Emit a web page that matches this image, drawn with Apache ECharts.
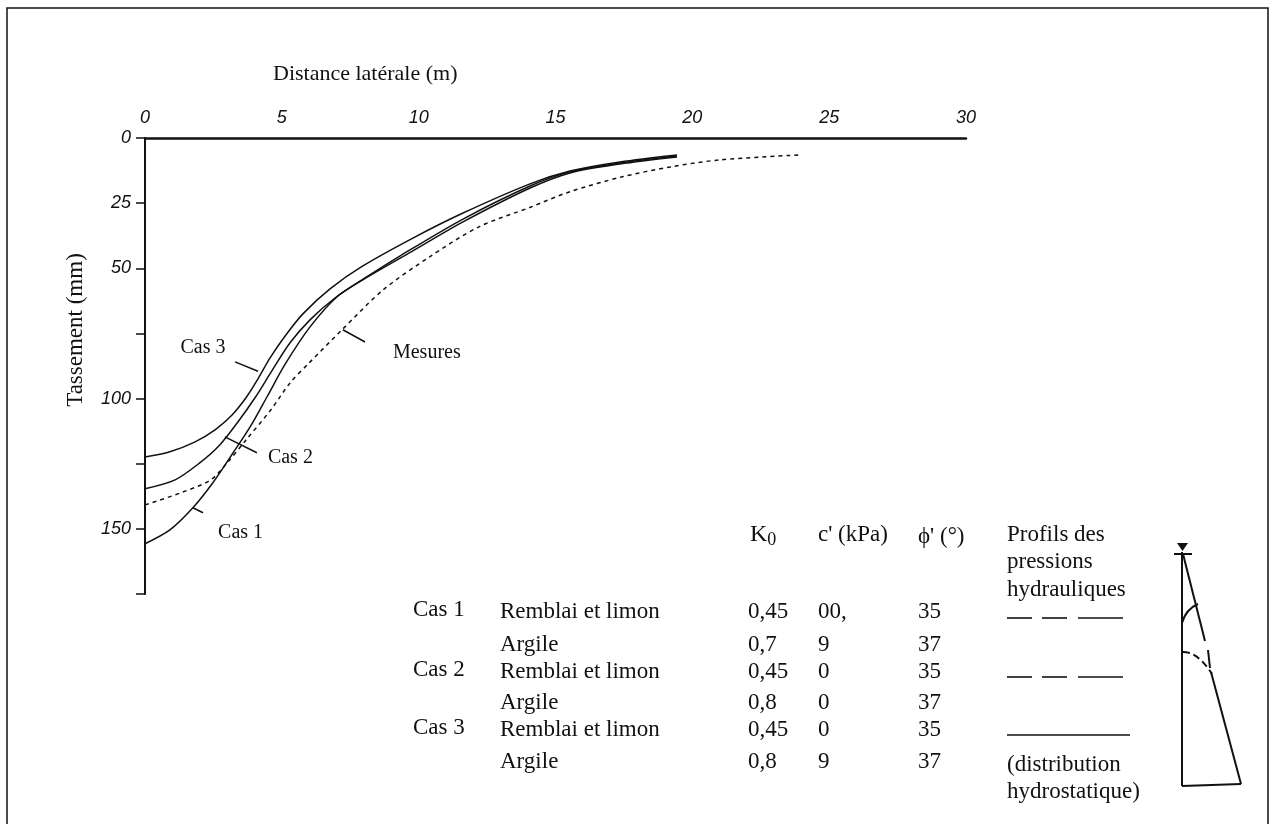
<!DOCTYPE html>
<html>
<head>
<meta charset="utf-8">
<script src="https://cdn.jsdelivr.net/npm/echarts@6/dist/echarts.min.js"></script>
<style>
html, body { margin: 0; padding: 0; background: #fff; }
#main { width: 1274px; height: 824px; }
</style>
</head>
<body>
<div id="main"></div>
<script>
// Distance latérale (m) / tassement (mm)
var cas3X = [0, 0.91, 1.83, 2.56, 3.18, 3.69, 4.13, 4.57, 5.12, 5.77, 6.76, 7.96, 9.79, 11.62, 14.07, 15.53, 17.35, 19.44];
var cas3Y = [122.4, 120.4, 116.6, 112.0, 106.3, 99.7, 92.4, 84.4, 76.0, 67.5, 57.9, 49.1, 38.4, 28.8, 17.6, 12.7, 9.2, 6.5];

var cas2X = [0, 1.1, 2.01, 2.74, 3.4, 4.02, 4.64, 5.3, 6.03, 6.94, 8.04, 9.31, 11.62, 14.07, 15.53, 17.35, 19.44];
var cas2Y = [134.6, 131.2, 124.6, 117.7, 108.9, 99.7, 89.3, 78.6, 69.8, 61.4, 53.7, 45.3, 31.1, 18.4, 13.0, 9.6, 6.9];

var cas1X = [0, 0.91, 1.75, 2.48, 3.22, 3.84, 4.46, 5.11, 6.03, 7.01, 7.96, 9.79, 11.62, 14.07, 15.53, 17.35, 19.44];
var cas1Y = [155.7, 150.4, 141.9, 132.3, 120.8, 110.9, 99.3, 87.0, 72.5, 61.0, 54.4, 43.3, 32.2, 19.2, 13.4, 10.0, 7.3];

var mesuresX = [0, 1.3, 2.4, 3.0, 3.7, 4.6, 5.3, 6.0, 7.2, 8.7, 10.4, 12.2, 14.1, 15.5, 17.4, 19.2, 21.0, 23.9];
var mesuresY = [140.8, 136.2, 131.2, 124.7, 115.8, 104.3, 94, 86.3, 73.6, 58.3, 45.6, 34.1, 26.5, 20.7, 15.0, 11.1, 8.4, 6.5];

var yLabels = [0, 25, 50, 100, 150];   // graduations numérotées

// tableau des paramètres
var casNoms = ['Cas 1', '', 'Cas 2', '', 'Cas 3', ''];
var couches = ['Remblai et limon', 'Argile', 'Remblai et limon', 'Argile', 'Remblai et limon', 'Argile'];
var k0 = ['0,45', '0,7', '0,45', '0,8', '0,45', '0,8'];
var cPrime = ['00,', '9', '0', '0', '0', '9'];
var phiPrime = ['35', '37', '35', '37', '35', '37'];

var serif = 'Liberation Serif';
var noir = '#111';

function paires(xs, ys) {
    var res = [];
    for (var i = 0; i < xs.length; i++) res.push([xs[i], ys[i]]);
    return res;
}

function courbe(nom, xs, ys, type) {
    return {
        name: nom,
        type: 'line',
        data: paires(xs, ys),
        smooth: 0.3,
        showSymbol: false,
        symbol: 'none',
        lineStyle: { color: noir, width: 1.5, type: type || 'solid' },
        z: 3
    };
}

var myChart = echarts.init(document.getElementById('main'));

var option = {
    backgroundColor: '#fff',
    animation: false,
    title: {
        text: 'Distance latérale (m)',
        left: 268,
        top: 58,
        textStyle: { fontFamily: serif, fontSize: 22, fontWeight: 'normal', color: noir }
    },
    grid: { left: 145, top: 138, width: 821, height: 456 },
    xAxis: {
        type: 'value',
        position: 'top',
        min: 0,
        max: 30,
        interval: 5,
        axisLine: { onZero: false, lineStyle: { color: noir, width: 2.5 } },
        axisTick: { show: false },
        splitLine: { show: false },
        axisLabel: {
            margin: 11,
            color: noir,
            fontFamily: 'Liberation Sans',
            fontStyle: 'italic',
            fontSize: 18
        }
    },
    yAxis: {
        type: 'value',
        inverse: true,
        min: 0,
        max: 175,
        interval: 25,
        axisLine: { show: true, lineStyle: { color: noir, width: 2 } },
        axisTick: { show: true, inside: false, length: 9, lineStyle: { color: noir, width: 1.5 } },
        splitLine: { show: false },
        axisLabel: {
            margin: 14,
            color: noir,
            fontFamily: 'Liberation Sans',
            fontStyle: 'italic',
            fontSize: 18,
            formatter: function (v) {
                return yLabels.indexOf(v) >= 0 ? String(v) : '';
            }
        }
    },
    series: [
        courbe('Cas 3', cas3X, cas3Y),
        courbe('Cas 2', cas2X, cas2Y),
        courbe('Cas 1', cas1X, cas1Y),
        courbe('Mesures', mesuresX, mesuresY, [4, 4])
    ]
};
myChart.setOption(option);

// étiquettes des courbes (points en coordonnées des axes)
var notes = [
    { texte: 'Cas 3', de: [3.29, 85.9], a: [4.13, 89.5], pos: [2.12, 80.6], align: 'center' },
    { texte: 'Cas 2', de: [2.92, 114.7], a: [4.09, 120.8], pos: [4.49, 122.7], align: 'left' },
    { texte: 'Cas 1', de: [1.75, 141.9], a: [2.12, 143.8], pos: [2.67, 151.5], align: 'left' },
    { texte: 'Mesures', de: [7.23, 73.6], a: [8.04, 78.3], pos: [9.06, 82.5], align: 'left' }
];

var elements = [];

// cadre
elements.push({
    type: 'rect',
    shape: { x: 7, y: 8, width: 1261, height: 830 },
    style: { fill: null, stroke: noir, lineWidth: 1.5 },
    silent: true
});

// titre de l'axe vertical
elements.push({
    type: 'text',
    x: 76,
    y: 330,
    rotation: Math.PI / 2,
    style: {
        text: 'Tassement (mm)',
        font: '23px ' + serif,
        fill: noir,
        textAlign: 'center',
        textVerticalAlign: 'middle'
    }
});

notes.forEach(function (n) {
    var p1 = myChart.convertToPixel({ gridIndex: 0 }, n.de);
    var p2 = myChart.convertToPixel({ gridIndex: 0 }, n.a);
    var pt = myChart.convertToPixel({ gridIndex: 0 }, n.pos);
    elements.push({
        type: 'line',
        shape: { x1: p1[0], y1: p1[1], x2: p2[0], y2: p2[1] },
        style: { stroke: noir, lineWidth: 1.5 }
    });
    elements.push({
        type: 'text',
        x: pt[0],
        y: pt[1],
        style: {
            text: n.texte,
            font: '20px ' + serif,
            fill: noir,
            textAlign: n.align,
            textVerticalAlign: 'middle'
        }
    });
});

// tableau
var colCas = 413, colCouche = 500, colK0 = 748, colC = 818, colPhi = 918, colProfil = 1007;
var lignesY = [612, 645, 672, 703, 730, 762];
var police = '23px ' + serif;

function texte(t, x, y) {
    elements.push({
        type: 'text',
        x: x,
        y: y,
        style: { text: t, font: police, fill: noir, textAlign: 'left', textVerticalAlign: 'middle' }
    });
}

// en-têtes
elements.push({
    type: 'text',
    x: colK0 + 2,
    y: 535,
    style: {
        text: '{k|K}{s|0}',
        textVerticalAlign: 'middle',
        rich: {
            k: { font: '24px ' + serif, fill: noir },
            s: { font: '18px ' + serif, fill: noir, padding: [11, 0, 0, 0] }
        }
    }
});
texte("c' (kPa)", colC, 535);
texte("\u03d5' (\u00b0)", colPhi, 537);
texte('Profils des', colProfil, 535);
texte('pressions', colProfil, 562);
texte('hydrauliques', colProfil, 590);

for (var i = 0; i < couches.length; i++) {
    var y = lignesY[i];
    if (casNoms[i]) texte(casNoms[i], colCas, y - 2);
    texte(couches[i], colCouche, y);
    texte(k0[i], colK0, y);
    texte(cPrime[i], colC, y);
    texte(phiPrime[i], colPhi, y);
}
texte('(distribution', colProfil, 765);
texte('hydrostatique)', colProfil, 792);

// traits des profils de pression
function trait(x1, y1, x2, y2, w) {
    elements.push({
        type: 'line',
        shape: { x1: x1, y1: y1, x2: x2, y2: y2 },
        style: { stroke: noir, lineWidth: w || 1.6 }
    });
}
[618, 677].forEach(function (yy) {
    trait(1007, yy, 1032, yy);
    trait(1042, yy, 1067, yy);
    trait(1078, yy, 1123, yy);
});
trait(1007, 735, 1130, 735);

// schéma des pressions hydrauliques
elements.push({
    type: 'polygon',
    shape: { points: [[1177, 543], [1188, 543], [1182.5, 551]] },
    style: { fill: noir }
});
trait(1174, 554, 1192, 554, 2);
trait(1182, 552, 1182, 786, 2);
trait(1182, 786, 1241, 784, 2);
trait(1183, 554, 1205, 641, 2);
trait(1208, 650, 1210, 668, 2);
trait(1211, 672, 1241, 784, 2);
elements.push({
    type: 'bezierCurve',
    shape: { x1: 1182, y1: 623, cpx1: 1186, cpy1: 609, x2: 1198, y2: 604 },
    style: { stroke: noir, lineWidth: 2, fill: null }
});
elements.push({
    type: 'bezierCurve',
    shape: { x1: 1183, y1: 652, cpx1: 1198, cpy1: 652, x2: 1212, y2: 674 },
    style: { stroke: noir, lineWidth: 2, fill: null, lineDash: [7, 4] }
});

myChart.setOption({ graphic: { elements: elements } });
</script>
</body>
</html>
